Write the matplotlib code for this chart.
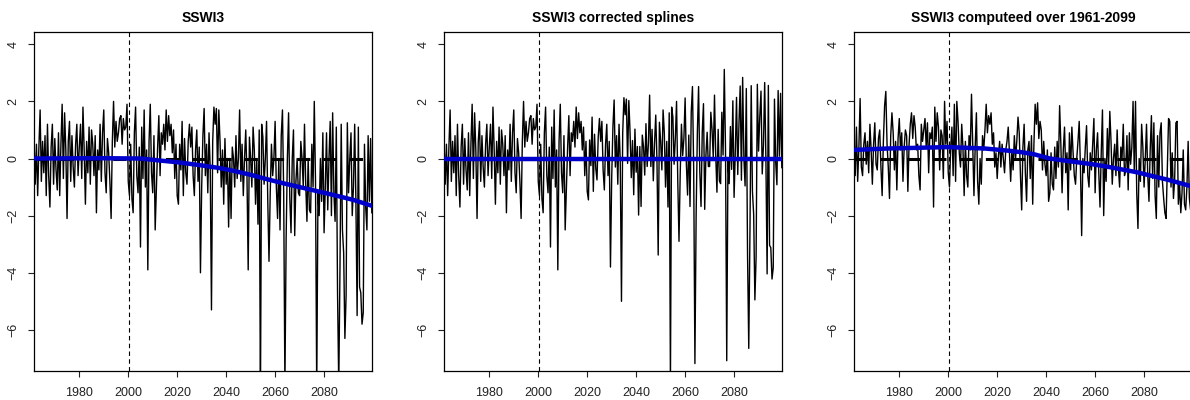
import numpy as np
import matplotlib.pyplot as plt

plt.rcParams['font.family'] = ['Liberation Sans', 'DejaVu Sans']

# half-yearly SSWI3 values, 1961.5 .. 2099.5
sswi3 = [
    0.7,
    -0.9, 0.5, -1.3, 0.4, 1.7, -0.8, 0.6, -0.5, 0.8, -1.3, 1.2, -0.6, -1.7, 0.4, 1.2, -0.9,      # 1962-69
    0.7, -0.4, -1.1, 0.9, -1.3, 0.5, 1.9, -0.7, 1.6, 0.3, -2.1, 0.6, 1.3, -0.8, 0.8, -0.3,      # 1970-77
    -1.0, 0.5, 1.2, -0.6,                                                                        # 1978-79
    0.4, 1.2, -0.7, 1.8, 0.3, -1.6, 0.6, -0.5, 1.1, -0.9, 1.0, 0.5, -0.6, 0.8, -1.9, 0.3,       # 1980-87
    -0.4, 1.2, -0.8, 0.9,                                                                        # 1988-89
    1.7, -0.5, -1.2, 0.7, 0.2, -0.8, -2.1, 0.6, 2.0, 0.4, 1.3, 0.6, 0.9, 1.4, 1.5, 0.5,         # 1990-97
    1.4, 1.0, 1.1, 1.9,                                                                          # 1998-99
    -0.8, -1.3, 0.5, -1.4, -1.9, 0.9, 1.8, -0.6, -1.2, 0.4, -3.1, 1.1, -0.7, 1.7, -1.0, 0.3,    # 2000-07
    -3.9, 0.6, 1.9, -0.5,                                                                        # 2008-09
    -1.2, 0.8, -2.5, -1.0, 0.4, 1.5, -0.6, 0.9, 0.5, 1.2, 0.3, 1.7, 0.6, 1.5, 0.8, 1.2,         # 2010-17
    0.2, 1.0, -0.7, 0.5,                                                                         # 2018-19
    -1.3, -1.6, 0.5, -0.4, 1.3, -1.3, 0.7, -0.5, -0.9, 0.6, 1.2, 0.4, 1.1, -0.6, -1.3, 0.3,     # 2020-27
    1.0, -0.8, 0.4, -4.0,                                                                        # 2028-29
    -1.0, 0.8, 1.75, -0.6, 0.5, -1.2, 0.9, -0.4, -5.3, 0.6, 1.8, 1.2, 1.75, -0.5, 1.7, 0.6,     # 2030-37
    -1.0, 0.3, -1.6, 0.7,                                                                        # 2038-39
    -0.9, 0.0, -2.4, 0.0, -2.1, 0.4, 0.0, -1.0, 0.8, -0.7, 0.0, 1.7, -0.8, 0.5, -1.3, 0.0,      # 2040-47
    1.0, -0.6, -3.9, 0.75,                                                                       # 2048-49
    0.0, -1.0, 1.1, 0.3, -1.6, 0.0, -2.3, 1.0, -8.5, 1.2, 0.75, -0.9, 0.0, 1.3, -1.5, -3.6,     # 2050-57
    -1.2, 0.5, -0.6, 0.0,                                                                        # 2058-59
    1.3, -1.0, -2.1, 0.0, -2.5, 0.8, 1.7, -1.2, -8.0, -2.8, 0.0, 1.6, -1.4, -2.6, 0.0, 1.0,     # 2060-67
    -2.7, -0.8, 0.0, -1.2,                                                                       # 2068-69
    -1.3, 0.6, 0.0, -1.0, 1.2, -0.9, -2.2, 0.0, -1.8, -1.9, 0.5, -1.0, 2.0, -0.8, -8.2, -1.2,   # 2070-77
    -2.0, 0.0, -1.5, 0.9,                                                                        # 2078-79
    -2.6, -1.0, 0.9, -1.8, 0.0, 1.3, -2.0, 1.6, -1.2, -2.2, 1.1, -4.7, -8.0, -3.8, 1.2, -2.5,   # 2080-87
    -3.3, -6.3, -4.8, 1.25,                                                                      # 2088-89
    -1.2, 0.0, 0.9, -2.0, -1.0, 1.2, -1.5, -5.5, 1.1, -4.5, -4.7, -5.8, -5.4, 0.5, -1.7, -2.5,  # 2090-97
    0.8, -1.5, 0.7, -1.9,                                                                        # 2098-99
]

# same index with the spline trend removed
sswi3_corr = [
    0.7,
    -0.9, 0.5, -1.3, 0.4, 1.7, -0.8, 0.6, -0.5, 0.8, -1.3, 1.2, -0.6, -1.7, 0.4, 1.2, -0.9,
    0.7, -0.4, -1.1, 0.9, -1.3, 0.5, 1.9, -0.7, 1.6, 0.3, -2.1, 0.6, 1.3, -0.8, 0.8, -0.3,
    -1.0, 0.5, 1.2, -0.6,
    0.4, 1.2, -0.7, 1.8, 0.3, -1.6, 0.6, -0.5, 1.1, -0.9, 1.0, 0.5, -0.6, 0.8, -1.9, 0.3,
    -0.4, 1.2, -0.8, 0.9,
    1.7, -0.5, -1.2, 0.7, 0.2, -0.8, -2.1, 0.6, 2.0, 0.4, 1.3, 0.6, 0.9, 1.4, 1.5, 0.5,
    1.4, 1.0, 1.1, 1.9,
    -0.8, -1.3, 0.5, -1.4, -1.9, 0.9, 1.8, -0.6, -1.2, 0.4, -3.1, 1.1, -0.7, 1.7, -1.0, 0.3,
    -3.9, 0.6, 1.9, -0.5,
    -1.2, 0.8, -2.5, -1.0, 0.4, 1.5, -0.6, 0.9, 0.6, 1.3, 0.4, 1.8, 0.7, 1.6, 0.9, 1.3,
    0.3, 1.1, -0.6, 0.6,
    -1.15, -1.45, 0.65, -0.25, 1.45, -1.15, 0.85, -0.35, -0.75, 0.75, 1.4, 0.6, 1.3, -0.4, -1.1, 0.5,
    1.2, -0.6, 0.6, -3.8,
    -0.7, 1.1, 2.05, -0.3, 0.8, -0.9, 1.2, -0.1, -5.0, 0.9, 2.13, 1.53, 2.08, -0.17, 2.03, 0.93,
    -0.67, 0.63, -1.27, 1.03,
    -0.48, 0.42, -1.98, 0.42, -1.68, 0.82, 0.42, -0.58, 1.22, -0.28, 0.52, 2.22, -0.28, 1.02, -0.78, 0.52,
    1.52, -0.08, -3.38, 1.27,
    0.6, -0.4, 1.7, 0.9, -1.0, 0.6, -1.7, 1.6, -7.9, 1.8, 1.45, -0.2, 0.7, 2.0, -0.8, -2.9,
    -0.5, 1.2, 0.1, 0.7,
    2.12, -0.18, -1.28, 0.82, -1.68, 1.62, 2.52, -0.38, -7.18, -1.98, 0.92, 2.52, -0.48, -1.68, 0.92, 1.92,
    -1.78, 0.12, 0.92, -0.28,
    -0.28, 1.62, 1.02, 0.02, 2.22, 0.12, -1.18, 1.02, -0.78, -0.88, 1.62, 0.12, 3.12, 0.32, -7.08, -0.08,
    -0.88, 1.12, -0.38, 2.02,
    -1.36, 0.24, 2.14, -0.56, 1.24, 2.54, -0.76, 2.84, 0.04, -0.96, 2.45, -3.35, -6.65, -2.45, 2.55, -1.15,
    -1.95, -4.95, -3.45, 2.6,
    0.26, 1.46, 2.36, -0.54, 0.46, 2.66, -0.04, -4.04, 2.56, -3.04, -3.12, -4.22, -3.82, 2.08, -0.12, -0.92,
    2.38, 0.08, 2.28, -0.32,
]

# SSWI3 with the reference period 1961-2099
sswi3_full = [
    0.8,
    -0.6, 1.1, -0.8, 0.4, 2.1, -0.3, -0.6, 0.5, 0.9, -0.2, 0.6, -0.5, 1.2, 0.3, -0.9, 0.5,
    1.25, -0.2, -0.4, 0.7, 1.0, -0.3, -1.3, 0.6, 1.85, 2.35, 0.5, -0.3, -1.4, 0.8, 1.6, 0.9,
    -0.4, 0.6, -1.1, 0.7,
    1.4, 0.3, 0.9, -0.8, 0.4, 1.0, 0.8, -1.15, 0.5, 1.2, 1.6, 0.7, 1.5, 1.1, 0.3, 0.5,
    -0.6, -1.1, 1.2, 0.6,
    1.0, 1.4, 0.4, 1.25, -0.5, 0.9, 0.7, 1.1, -1.7, 1.8, 0.6, 1.6, 1.1, -0.4, 1.0, 0.8,
    -0.7, 2.0, 0.5, 1.3,
    -0.5, -1.0, 0.4, 1.1, -0.6, 1.9, -0.8, 2.0, 1.3, 0.2, -0.3, 1.2, 0.4, -1.3, 0.6, -0.6,
    -1.0, 0.8, 0.3, 2.25,
    0.5, -1.3, 0.4, 1.6, -0.8, -1.6, 0.0, -0.9, 0.8, 0.3, 1.0, 1.9, 0.9, 1.5, 1.2, 1.6,
    0.5, 0.9, -0.3, 0.2,
    -0.7, 0.1, 0.6, -0.3, 0.5, 0.0, -0.5, 0.3, 0.6, 1.1, 0.2, -0.8, 0.3, -0.4, 0.8, 0.0,
    0.6, 1.45, 0.9, -0.6,
    -1.8, 0.4, 1.2, -0.5, -1.5, 0.3, 0.6, -0.7, 0.8, -1.6, 0.5, 1.9, 1.2, 1.95, 0.7, 1.3,
    1.0, -0.4, 0.6, -0.2,
    -0.6, 0.3, -1.5, -1.2, 0.2, -0.9, -1.1, 0.4, -0.7, 0.6, -0.3, 1.85, 0.5, -1.2, 0.3, 1.1,
    -0.5, 0.2, -1.8, 0.9,
    -0.4, 1.1, 0.2, -0.6, -0.9, 0.0, 0.6, 1.3, -0.3, -2.7, 0.0, -0.5, 0.4, 1.15, -0.6, -1.0,
    0.2, -0.4, 0.5, 1.4,
    -1.2, 0.3, 0.9, -0.5, -1.7, 0.2, 1.7, -2.0, 0.0, -0.8, 1.05, -0.3, 1.65, 0.6, -0.9, 0.0,
    0.5, -0.6, 1.0, -0.3,
    -1.0, 0.4, 0.0, 1.2, -0.6, -0.4, 0.8, -1.1, 0.9, -0.2, 0.4, 2.0, -0.5, 2.0, -1.2, -2.45,
    0.0, -0.8, 1.2, 0.4,
    -1.0, 0.0, 1.2, -0.6, -1.5, 0.3, 1.5, -0.7, 1.25, -1.3, -2.1, 0.8, -1.0, 0.9, 1.25, -0.8,
    -1.4, -1.9, -2.1, -0.4,
    1.4, 1.3, -1.0, 0.2, -1.4, -0.7, 1.25, 1.3, -1.6, -0.9, -1.9, -1.2, 0.3, -1.6, -1.8, -1.0,
    0.6, -1.4, -1.8, 0.5,
]

# smoothing spline of each series, read at a few years
trend_years = [1961.5, 1990, 2005, 2014, 2020, 2029, 2037, 2043, 2050, 2056.5, 2063, 2070, 2077, 2084, 2092, 2099.7]
trend_raw = [0.0, 0.01, 0.0, -0.08, -0.13, -0.23, -0.33, -0.43, -0.57, -0.72, -0.86, -1.0, -1.14, -1.28, -1.45, -1.66]
trend_corr = [0.0] * len(trend_years)
trend_full_years = [1961.5, 1975, 2000, 2015, 2025, 2030, 2035, 2041.5, 2050, 2058, 2064, 2071.4, 2077, 2082.3, 2090, 2099.7]
trend_full = [0.3, 0.35, 0.4, 0.35, 0.27, 0.22, 0.15, 0.0, -0.1, -0.19, -0.27, -0.39, -0.48, -0.59, -0.75, -0.98]

titles = ['SSWI3', 'SSWI3 corrected splines', 'SSWI3 computeed over 1961-2099']
series = [sswi3, sswi3_corr, sswi3_full]
trends = [(trend_years, trend_raw), (trend_years, trend_corr), (trend_full_years, trend_full)]

t = 1961.5 + 0.5 * np.arange(len(sswi3))

fig = plt.figure(figsize=(11.9, 4), dpi=100)
W, H = 1190, 400
for i in range(3):
    left = 34 + 410 * i
    ax = fig.add_axes([left / W, (H - 371) / H, 338.3 / W, (371 - 31.7) / H])
    ax.axhline(0, color='black', lw=2.2, dashes=(4.3, 4.3), zorder=1)
    ax.plot(t, series[i], color='black', lw=1.0, zorder=2)
    ax.axvline(2000.3, color='black', lw=0.8, dashes=(4, 3), zorder=3)
    ax.plot(trends[i][0], trends[i][1], color='#0000cc', lw=3.2, zorder=4, solid_capstyle='butt')

    ax.set_xlim(1961.5, 2099.7)
    ax.set_ylim(-7.44, 4.44)
    ax.set_xticks([1980, 2000, 2020, 2040, 2060, 2080])
    ax.set_yticks([-6, -4, -2, 0, 2, 4])
    ax.tick_params(length=4.5, width=0.8, colors='#222222', labelsize=9, direction='out')
    ax.tick_params(axis='x', pad=7)
    ax.tick_params(axis='y', pad=6, labelrotation=90)
    for lab in ax.get_yticklabels():
        lab.set_va('center')
    for sp in ax.spines.values():
        sp.set_linewidth(0.9)
    ax.set_title(titles[i], fontsize=10, fontweight='bold', pad=7)

fig.savefig('out.png', dpi=100)
